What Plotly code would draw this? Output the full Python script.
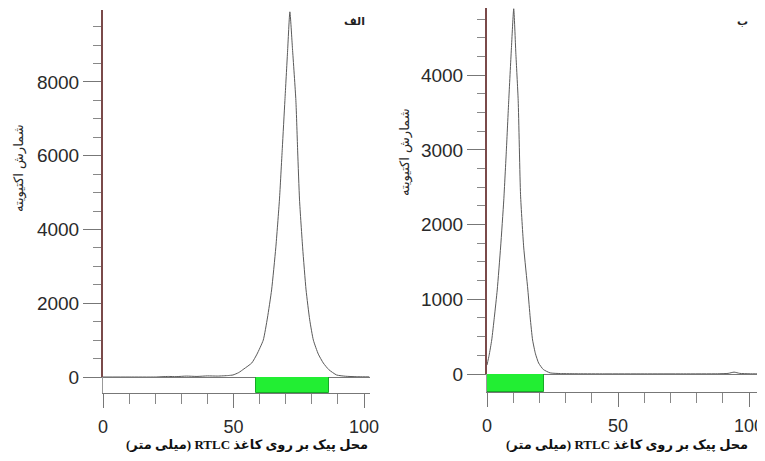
import plotly.graph_objects as go

# the page places the figure 8px from the top-left corner of the window
OFF = 8
W, H = 765 - OFF, 461 - OFF

# ---- data: panel الف (left) ----
a_x = [0, 10, 20, 25, 28, 32, 36, 40, 44, 48, 49.8, 52, 54, 57, 59, 61.4, 63, 64.6, 66.2, 67.6,
       68.7, 69.7, 70.7, 71.6, 72.6, 73.9, 74.6, 75.3, 76.5, 77.8, 79.2, 80.6, 82.5, 84.4, 86.5,
       89.5, 93, 97, 100, 102]
a_y = [0, 0, 0, 15, 10, 25, 15, 30, 25, 40, 55, 120, 220, 380, 620, 1000, 1600, 2360, 3500, 4800,
       6200, 7500, 8800, 9900, 8900, 7500, 6100, 4800, 3500, 2360, 1550, 1000, 620, 380, 200,
       55, 20, 8, 5, 3]
a_green = [58.5, 86.5]

# ---- data: panel ب (right) ----
b_x = [0, 0.8, 1.8, 2.8, 3.9, 5.2, 6.4, 7.4, 8.3, 9.3, 10.2, 11.0, 11.9, 12.8, 14.0, 15.6, 16.5,
       17.4, 18.5, 19.7, 21.5, 24.1, 28, 35, 45, 60, 75, 88, 92, 94.3, 96.5, 100, 104.2]
b_y = [120, 250, 455, 760, 1124, 1700, 2328, 3000, 3665, 4350, 4890, 4300, 3665, 2400, 1700, 1124,
       750, 455, 270, 147, 60, 15, 6, 3, 2, 2, 2, 3, 8, 25, 8, 3, 2]
b_green = [0, 21.6]

# logical order chosen so that it renders like the original in an LTR text context
x_title = "(میلی متر) RTLC محل پیک بر روی کاغذ"
y_title = "شمارش اکتیویته"

fig = go.Figure()

def px_x(p):
    return (p - OFF) / W

def px_y(p):
    return 1 - (p - OFF) / H

panels = [
    dict(x=a_x, y=a_y, green=a_green, x0=103, x1=370, xmax=102.3, top=10, base=377, bot=393,
         ymax=9950, dtick=2000, minor=500, label="الف", lab_x=354, ytl_x=19, ytl_y=168,
         xtl_x=247),
    dict(x=b_x, y=b_y, green=b_green, x0=487, x1=760, xmax=104.2, top=8, base=374, bot=392,
         ymax=4900, dtick=1000, minor=250, label="ب", lab_x=742, ytl_x=405, ytl_y=152,
         xtl_x=627),
]

tickfont = dict(family="Liberation Sans, Arial", size=19, color="#2a2a2a")
xtickfont = dict(family="Liberation Sans, Arial", size=18, color="#2a2a2a")
layout = {}
for i, p in enumerate(panels):
    n_main = 2 * i + 1
    n_strip = 2 * i + 2
    xm = "x" if n_main == 1 else f"x{n_main}"
    ym = "y" if n_main == 1 else f"y{n_main}"
    xs = f"x{n_strip}"
    ys = f"y{n_strip}"
    fig.add_trace(go.Scatter(x=p["x"], y=p["y"], mode="lines",
                             line=dict(color="#5a5a5a", width=1, shape="spline", smoothing=0.5),
                             xaxis=xm, yaxis=ym, showlegend=False, hoverinfo="skip"))
    fig.add_trace(go.Bar(y=[0.5], x=[p["green"][1] - p["green"][0]], base=[p["green"][0]],
                         orientation="h", width=1,
                         marker=dict(color="#22ee33", line=dict(color="#18a828", width=1)),
                         xaxis=xs, yaxis=ys, showlegend=False, hoverinfo="skip"))
    dom_x = [px_x(p["x0"]), min(1.0, px_x(p["x1"]))]
    kx = "xaxis" if n_main == 1 else f"xaxis{n_main}"
    ky = "yaxis" if n_main == 1 else f"yaxis{n_main}"
    layout[kx] = dict(domain=dom_x, range=[0, p["xmax"]], anchor=ym, showline=True,
                      linecolor="#777777", linewidth=1, ticks="", showticklabels=False,
                      showgrid=False, zeroline=False, automargin=False)
    layout[ky] = dict(domain=[px_y(p["base"]), min(1.0, px_y(p["top"]))], range=[0, p["ymax"]],
                      anchor=xm, showline=True, linecolor="#7a4a4a", linewidth=2,
                      ticks="outside", ticklen=18, tickcolor="#777777", tickwidth=1,
                      dtick=p["dtick"], tickformat="d", tickfont=tickfont, showgrid=False,
                      zeroline=False, automargin=False, ticklabeloverflow="allow",
                      minor=dict(ticks="outside", ticklen=8, dtick=p["minor"],
                                 tickcolor="#888888", tickwidth=1, showgrid=False))
    layout[f"xaxis{n_strip}"] = dict(domain=dom_x, range=[0, p["xmax"]], anchor=ys,
                                     showline=True, linecolor="#777777", linewidth=1,
                                     ticks="outside", ticklen=14, tickcolor="#777777",
                                     dtick=50, tickfont=xtickfont, showgrid=False,
                                     zeroline=False, ticklabelstandoff=3, automargin=False,
                                     ticklabeloverflow="allow",
                                     minor=dict(ticks="outside", ticklen=10, dtick=10,
                                                tickcolor="#888888", showgrid=False))
    layout[f"yaxis{n_strip}"] = dict(domain=[px_y(p["bot"]), px_y(p["base"])], range=[0, 1],
                                     anchor=xs, showline=True, linecolor="#999999",
                                     linewidth=1, ticks="", showticklabels=False,
                                     showgrid=False, zeroline=False, automargin=False)
    fig.add_annotation(text=y_title, textangle=-90, x=px_x(p["ytl_x"]), y=px_y(p["ytl_y"]),
                       xref="paper", yref="paper", showarrow=False,
                       xanchor="center", yanchor="middle",
                       font=dict(family="DejaVu Sans", size=13, color="#2a2a2a"))
    fig.add_annotation(text=f"<b>{x_title}</b>", x=px_x(p["xtl_x"]), y=px_y(444),
                       xref="paper", yref="paper", showarrow=False,
                       xanchor="center", yanchor="middle",
                       font=dict(family="Liberation Serif, DejaVu Sans", size=13,
                                 color="#111111"))
    fig.add_annotation(text=f"<b>{p['label']}</b>", x=px_x(p["lab_x"]), y=px_y(21),
                       xref="paper", yref="paper", showarrow=False,
                       xanchor="center", yanchor="middle",
                       font=dict(family="DejaVu Sans", size=11, color="#222222"))

fig.update_layout(width=W, height=H, margin=dict(l=0, r=0, t=0, b=0),
                  paper_bgcolor="white", plot_bgcolor="white", bargap=0, **layout)

fig.write_html("out.html")
